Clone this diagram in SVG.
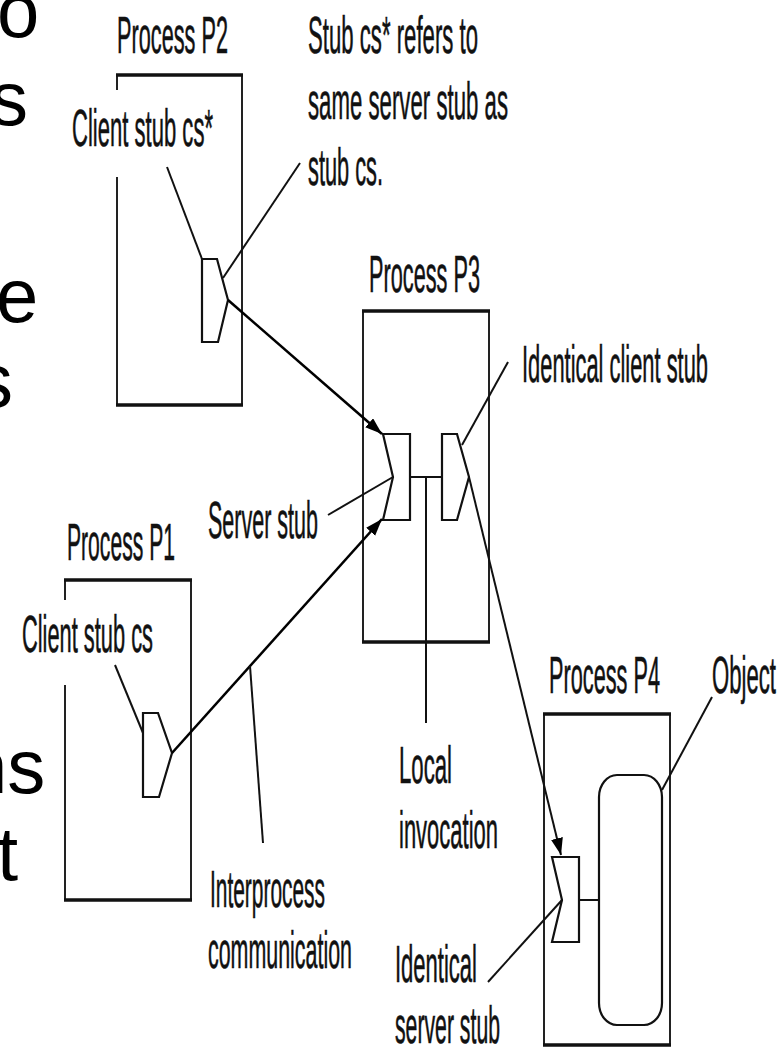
<svg xmlns="http://www.w3.org/2000/svg" width="780" height="1049" viewBox="0 0 780 1049">
<defs>
<marker id="ah" markerUnits="userSpaceOnUse" markerWidth="18" markerHeight="14" refX="17" refY="6" orient="auto">
<path d="M0,0 L17,6 L0,12 Z" fill="#000"/>
</marker>
<style>
.lbl{font-family:"Liberation Sans",Arial,sans-serif;font-size:52px;fill:#111;stroke:#111;stroke-width:0.6;}
.big{font-family:"Liberation Sans",Arial,sans-serif;font-size:76px;fill:#000;}
.side{fill:none;stroke:#222;stroke-width:2;}
.edge{fill:none;stroke:#111;stroke-width:3.5;}
.stub{fill:#fff;stroke:#111;stroke-width:2.2;stroke-linejoin:miter;}
.ln{fill:none;stroke:#111;stroke-width:2;}
.ar{fill:none;stroke:#000;stroke-width:2.6;}
</style>
</defs>
<rect width="780" height="1049" fill="#fff"/>
<g id="slide-fragments">
<text class="big" x="-3" y="37">o</text>
<text class="big" x="-10" y="125">s</text>
<text class="big" x="-4" y="322">e</text>
<text class="big" x="-25" y="407">s</text>
<text class="big" x="-35" y="793">ns</text>
<text class="big" x="-3" y="880">t</text>
</g>
<g id="p2">
<path class="side" d="M117,75 V90 M117,177 V405 M242,75 V405"/>
<path class="edge" d="M116,75 H243 M116,405 H243"/>
<text class="lbl" x="117" y="53" textLength="111" lengthAdjust="spacingAndGlyphs">Process P2</text>
<text class="lbl" x="72" y="146" textLength="141" lengthAdjust="spacingAndGlyphs">Client stub cs*</text>
<polygon class="stub" points="202,259 217,259 228,300 218,342 202,342"/>
</g>
<g id="note-cs-star">
<text class="lbl" x="308" y="53" textLength="170" lengthAdjust="spacingAndGlyphs">Stub cs* refers to</text>
<text class="lbl" x="308" y="119" textLength="200" lengthAdjust="spacingAndGlyphs">same server stub as</text>
<text class="lbl" x="308" y="185" textLength="75" lengthAdjust="spacingAndGlyphs">stub cs.</text>
</g>
<g id="p3">
<path class="side" d="M363,311 V642 M489,311 V642"/>
<path class="edge" d="M362,311 H490 M362,642 H490"/>
<text class="lbl" x="369" y="292" textLength="111" lengthAdjust="spacingAndGlyphs">Process P3</text>
<polygon class="stub" points="383,434 410,434 410,520 383,520 393,477"/>
<polygon class="stub" points="442,434 457,434 469,477 457,520 442,520"/>
</g>
<g id="p1">
<path class="side" d="M65,580 V600 M65,685 V900 M191,580 V900"/>
<path class="edge" d="M64,580 H192 M64,900 H192"/>
<text class="lbl" x="67" y="560" textLength="108" lengthAdjust="spacingAndGlyphs">Process P1</text>
<text class="lbl" x="22" y="652" textLength="131" lengthAdjust="spacingAndGlyphs">Client stub cs</text>
<polygon class="stub" points="143,713 158,713 172,753 159,797 143,797"/>
</g>
<g id="p4">
<path class="side" d="M544,714 V1045 M670,714 V1045"/>
<path class="edge" d="M543,714 H671 M543,1045 H671"/>
<text class="lbl" x="549" y="693" textLength="111" lengthAdjust="spacingAndGlyphs">Process P4</text>
<polygon class="stub" points="552,857 579,857 579,942 552,942 562,900"/>
<rect class="stub" x="599" y="775" width="63" height="250" rx="18" ry="22"/>
</g>
<g id="labels">
<text class="lbl" x="522" y="382" textLength="186" lengthAdjust="spacingAndGlyphs">Identical client stub</text>
<text class="lbl" x="208" y="538" textLength="110" lengthAdjust="spacingAndGlyphs">Server stub</text>
<text class="lbl" x="712" y="693" textLength="64" lengthAdjust="spacingAndGlyphs">Object</text>
<text class="lbl" x="399" y="783" textLength="53" lengthAdjust="spacingAndGlyphs">Local</text>
<text class="lbl" x="399" y="848" textLength="99" lengthAdjust="spacingAndGlyphs">invocation</text>
<text class="lbl" x="210" y="907" textLength="115" lengthAdjust="spacingAndGlyphs">Interprocess</text>
<text class="lbl" x="208" y="968" textLength="144" lengthAdjust="spacingAndGlyphs">communication</text>
<text class="lbl" x="395" y="982" textLength="82" lengthAdjust="spacingAndGlyphs">Identical</text>
<text class="lbl" x="395" y="1043" textLength="105" lengthAdjust="spacingAndGlyphs">server stub</text>
</g>
<g id="connectors">
<path class="ln" d="M410,477 H442"/>
<path class="ln" d="M426,477 V723"/>
<path class="ln" d="M579,900 H599"/>
<path class="ar" d="M228,300 L382,434" marker-end="url(#ah)"/>
<path class="ar" d="M172,753 L382,519" marker-end="url(#ah)"/>
<path class="ln" d="M469,477 L561,855" marker-end="url(#ah)"/>
<path class="ln" d="M167,167 L202,259"/>
<path class="ln" d="M300,163 L223,278"/>
<path class="ln" d="M508,362 L462,445"/>
<path class="ln" d="M328,515 L393,477"/>
<path class="ln" d="M115,665 L143,733"/>
<path class="ln" d="M250,666 L263,843"/>
<path class="ln" d="M712,697 L662,790"/>
<path class="ln" d="M488,982 L562,900"/>
</g>
</svg>
